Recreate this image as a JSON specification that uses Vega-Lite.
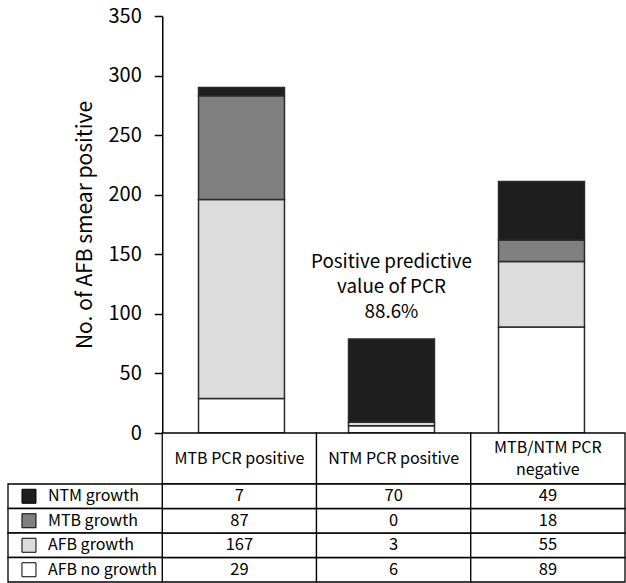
{
  "$schema": "https://vega.github.io/schema/vega-lite/v6.json",
  "padding": {"left": 7, "top": 6, "right": 0, "bottom": 0},
  "background": "white",
  "spacing": 0,
  "bounds": "flush",
  "config": {
    "view": {"stroke": null},
    "font": "Noto Sans CJK KR",
    "text": {"font": "Noto Sans CJK KR", "color": "black"}
  },
  "datasets": {
    "counts": [
      {"status": "AFB no growth", "col": "MTB PCR positive", "n": 29},
      {"status": "AFB growth", "col": "MTB PCR positive", "n": 167},
      {"status": "MTB growth", "col": "MTB PCR positive", "n": 87},
      {"status": "NTM growth", "col": "MTB PCR positive", "n": 7},
      {"status": "AFB no growth", "col": "NTM PCR positive", "n": 6},
      {"status": "AFB growth", "col": "NTM PCR positive", "n": 3},
      {"status": "MTB growth", "col": "NTM PCR positive", "n": 0},
      {"status": "NTM growth", "col": "NTM PCR positive", "n": 70},
      {"status": "AFB no growth", "col": "MTB/NTM PCR\nnegative", "n": 89},
      {"status": "AFB growth", "col": "MTB/NTM PCR\nnegative", "n": 55},
      {"status": "MTB growth", "col": "MTB/NTM PCR\nnegative", "n": 18},
      {"status": "NTM growth", "col": "MTB/NTM PCR\nnegative", "n": 49}
    ],
    "cols": [
      {"col": "MTB PCR positive"},
      {"col": "NTM PCR positive"},
      {"col": "MTB/NTM PCR\nnegative"}
    ],
    "statuses": [
      {"status": "NTM growth"},
      {"status": "MTB growth"},
      {"status": "AFB growth"},
      {"status": "AFB no growth"}
    ],
    "notes": [
      {"note": "Positive predictive\nvalue of PCR\n88.6%"}
    ]
  },
  "resolve": {"scale": {"x": "independent", "y": "independent"}},
  "vconcat": [
    {
      "width": 617,
      "height": 417,
      "layer": [
        {
          "data": {"name": "counts"},
          "transform": [{"window": [{"op": "row_number", "as": "stackOrder"}], "groupby": ["col"]}],
          "mark": {"type": "bar", "width": {"band": 0.573}, "stroke": "#2a2a2a", "strokeWidth": 1.5},
          "encoding": {
            "x": {"field": "col", "type": "nominal",
              "scale": {"domain": ["label", "MTB PCR positive", "NTM PCR positive", "MTB/NTM PCR\nnegative"], "paddingInner": 0, "paddingOuter": 0.0567},
              "axis": null},
            "y": {"field": "n", "type": "quantitative", "stack": "zero",
              "scale": {"domain": [0, 350], "nice": false},
              "axis": {"title": "No. of AFB smear positive", "values": [0, 50, 100, 150, 200, 250, 300, 350],
                "offset": -154.25, "grid": false, "domainColor": "black", "domainWidth": 1.5,
                "tickColor": "black", "tickWidth": 1.5, "tickSize": 8,
                "labelFontSize": 20, "labelColor": "black", "labelPadding": 13, "labelFont": "Noto Sans CJK KR",
                "titleFontSize": 21, "titleFontWeight": "normal", "titleColor": "black", "titleFont": "Noto Sans CJK KR",
                "titlePadding": 12}},
            "color": {"field": "status", "type": "nominal",
              "scale": {"domain": ["AFB no growth", "AFB growth", "MTB growth", "NTM growth"], "range": ["#ffffff", "#dcdcdc", "#808080", "#1e1e1e"]},
              "legend": null},
            "order": {"field": "stackOrder", "type": "quantitative", "sort": "ascending"}
          }
        },
        {
          "data": {"name": "notes"},
          "mark": {"type": "text", "fontSize": 18.8, "lineBreak": "\n", "lineHeight": 25, "align": "center", "baseline": "middle"},
          "encoding": {
            "x": {"datum": "NTM PCR positive", "type": "nominal"},
            "y": {"datum": 143.5, "type": "quantitative"},
            "text": {"field": "note"}
          }
        }
      ]
    },
    {
      "width": 617,
      "height": 51,
      "data": {"name": "cols"},
      "encoding": {
        "x": {"field": "col", "type": "nominal",
          "scale": {"domain": ["label", "MTB PCR positive", "NTM PCR positive", "MTB/NTM PCR\nnegative"], "paddingInner": 0, "paddingOuter": 0},
          "axis": null}
      },
      "layer": [
        {"mark": {"type": "rect", "fill": "white", "stroke": "black", "strokeWidth": 1.3}},
        {"transform": [{"filter": "indexof(datum.col, '\\n') < 0"}],
          "mark": {"type": "text", "fontSize": 16, "baseline": "middle"},
          "encoding": {"text": {"field": "col"}}},
        {"transform": [{"filter": "indexof(datum.col, '\\n') >= 0"}],
          "mark": {"type": "text", "fontSize": 16, "lineBreak": "\n", "lineHeight": 22, "baseline": "middle", "dy": -11},
          "encoding": {"text": {"field": "col"}}}
      ]
    },
    {
      "width": 617,
      "height": 98,
      "layer": [
        {
          "data": {"name": "counts"},
          "mark": {"type": "rect", "fill": "white", "stroke": "black", "strokeWidth": 1.3},
          "encoding": {
            "x": {"field": "col", "type": "nominal",
              "scale": {"domain": ["label", "MTB PCR positive", "NTM PCR positive", "MTB/NTM PCR\nnegative"], "paddingInner": 0, "paddingOuter": 0},
              "axis": null},
            "y": {"field": "status", "type": "nominal",
              "scale": {"domain": ["NTM growth", "MTB growth", "AFB growth", "AFB no growth"], "paddingInner": 0, "paddingOuter": 0},
              "axis": null}
          }
        },
        {
          "data": {"name": "counts"},
          "mark": {"type": "text", "fontSize": 16.5, "baseline": "middle", "align": "center"},
          "encoding": {
            "x": {"field": "col", "type": "nominal"},
            "y": {"field": "status", "type": "nominal"},
            "text": {"field": "n"}
          }
        },
        {
          "data": {"name": "statuses"},
          "mark": {"type": "rect", "fill": "white", "stroke": "black", "strokeWidth": 1.3},
          "encoding": {
            "x": {"datum": "label", "type": "nominal"},
            "y": {"field": "status", "type": "nominal"}
          }
        },
        {
          "data": {"name": "statuses"},
          "mark": {"type": "point", "shape": "square", "size": 196, "filled": true, "stroke": "black", "strokeWidth": 1, "opacity": 1},
          "encoding": {
            "x": {"datum": "label", "type": "nominal", "bandPosition": 0.136},
            "y": {"field": "status", "type": "nominal"},
            "fill": {"field": "status", "type": "nominal",
              "scale": {"domain": ["AFB no growth", "AFB growth", "MTB growth", "NTM growth"], "range": ["#ffffff", "#dcdcdc", "#808080", "#1e1e1e"]},
              "legend": null}
          }
        },
        {
          "data": {"name": "statuses"},
          "mark": {"type": "text", "fontSize": 16, "baseline": "middle", "align": "left"},
          "encoding": {
            "x": {"datum": "label", "type": "nominal", "bandPosition": 0.259},
            "y": {"field": "status", "type": "nominal"},
            "text": {"field": "status"}
          }
        }
      ]
    }
  ]
}
